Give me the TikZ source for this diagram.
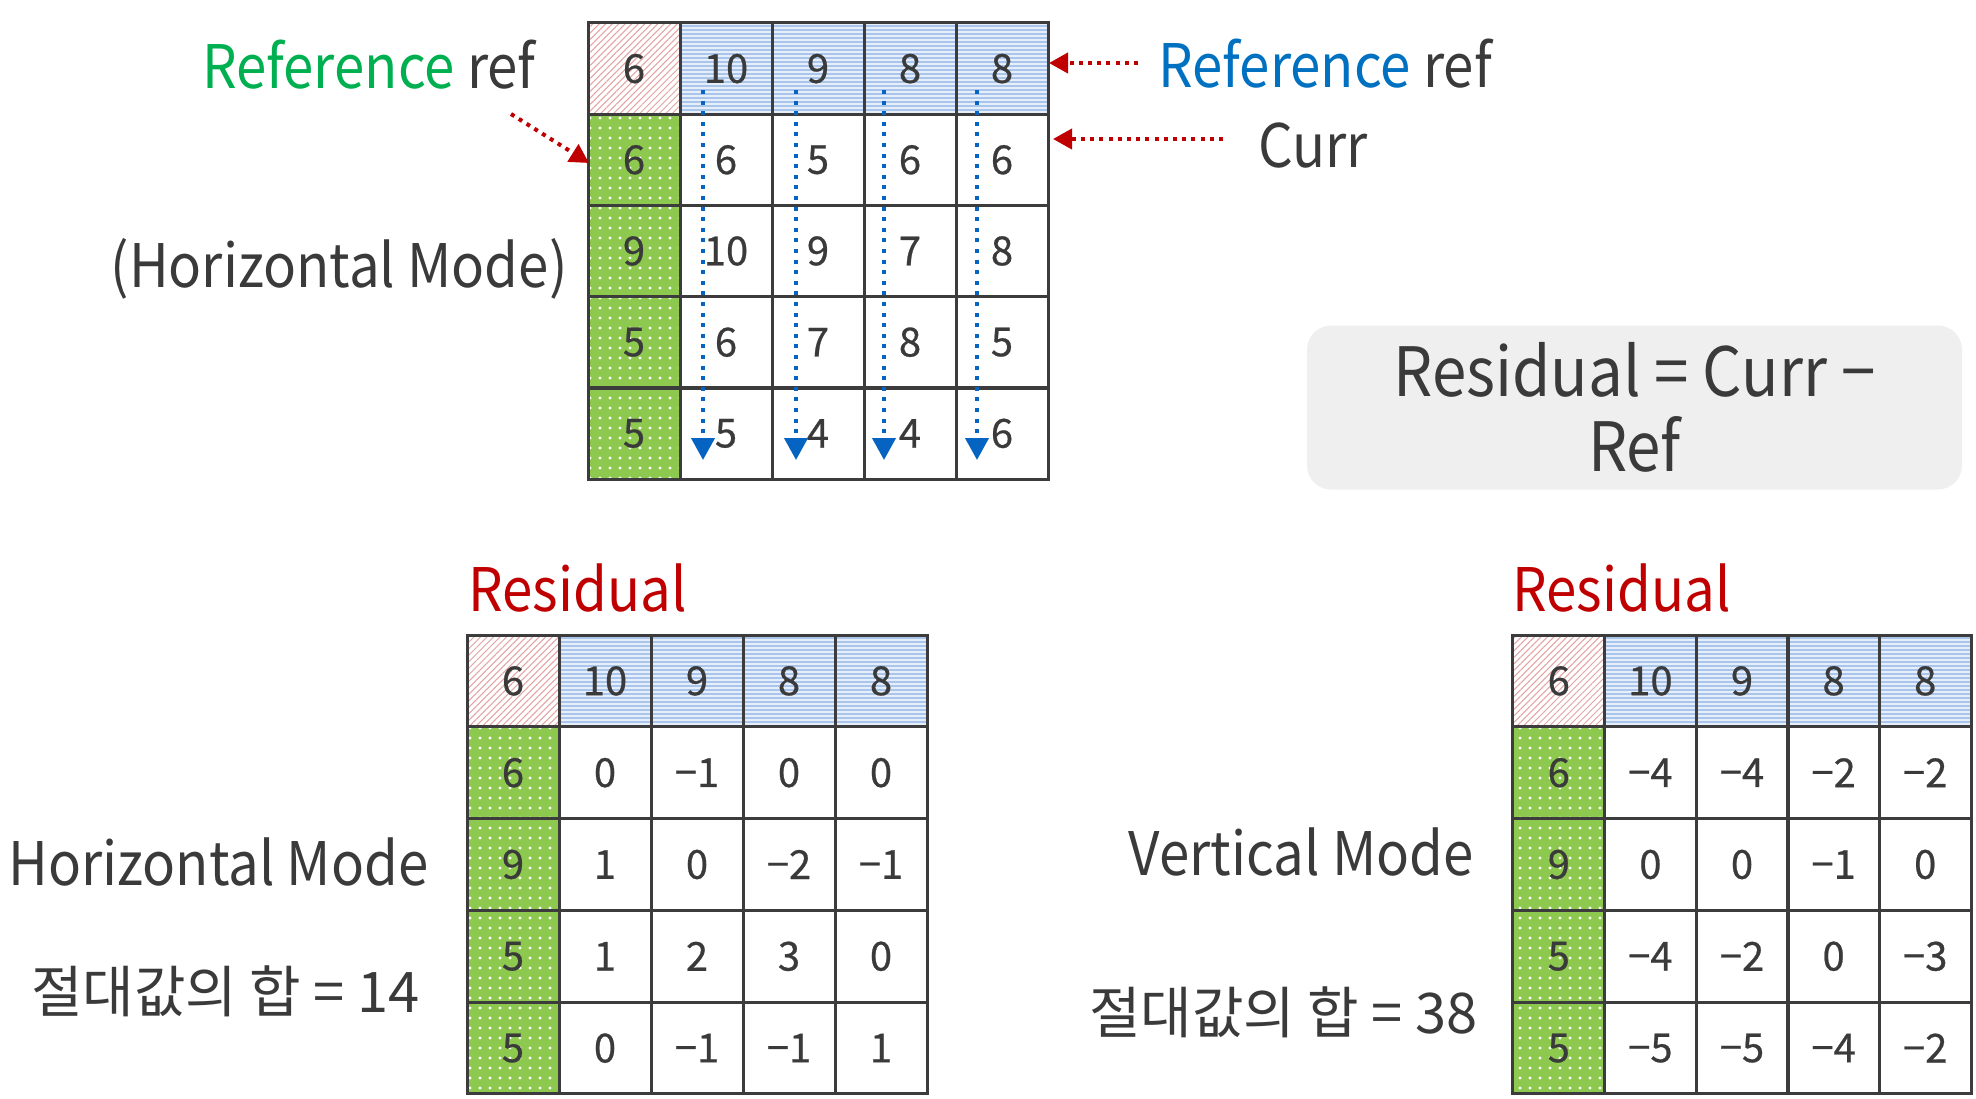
\documentclass[tikz,border=0pt]{standalone}
\usepackage{fontspec}
\setmainfont{Noto Sans CJK KR}
\newfontfamily\lblfont[FakeStretch=0.91]{Noto Sans CJK KR}
\newfontfamily\cellfont[FakeBold=0.6]{Noto Sans CJK KR}
\usetikzlibrary{arrows.meta,patterns.meta}
\definecolor{txt}{HTML}{3A3A3A}
\definecolor{grn}{HTML}{00B050}
\definecolor{blu}{HTML}{0070C0}
\definecolor{rd}{HTML}{C00000}
\definecolor{cellgreen}{HTML}{8DC94F}
\definecolor{hatchred}{HTML}{E5A3A3}
\definecolor{hatchblue}{HTML}{A9C5EC}
\definecolor{lightblue}{HTML}{E6EEF9}
\definecolor{arrblue}{HTML}{0563C1}
\definecolor{boxgray}{HTML}{EFEFEF}
\definecolor{gridc}{HTML}{3C3C3C}
\tikzset{
  cell/.style={draw=gridc, line width=1.5pt, minimum width=46pt, minimum height=45.8pt,
    inner sep=0pt, font=\cellfont\fontsize{20}{20}\selectfont, text=txt},
  lbl/.style={inner sep=0pt, font=\lblfont\fontsize{30}{36}\selectfont, text=txt},
  kor/.style={inner sep=0pt, font=\fontsize{28}{34}\selectfont, text=txt},
  vdot/.style={draw=arrblue, line width=2pt, dash pattern=on 2pt off 3.3pt,
    -{Triangle[width=11.5pt,length=11pt]}},
  rdot/.style={draw=rd, line width=2pt, dash pattern=on 2pt off 2.6pt,
    -{Triangle[width=10pt,length=9.5pt]}},
  formulabox/.style={fill=boxgray, rounded corners=12pt, inner sep=0pt,
    minimum width=327.5pt, minimum height=82pt, align=center, text=txt,
    font=\lblfont\fontsize{34}{37.5}\selectfont}
}
% #1 name, #2 x0, #3 y0, #4 cell w, #5 cell h, #6 rows
\newcommand\mkgrid[6]{%
  \fill[white] (#2,#3) rectangle ({#2+#4},{#3+#5});
  \fill[pattern={Lines[angle=45,distance=2.3pt,line width=0.5pt]}, pattern color=hatchred]
    (#2,#3) rectangle ({#2+#4},{#3+#5});
  \fill[lightblue] ({#2+#4},#3) rectangle ({#2+5*#4},{#3+#5});
  \fill[pattern={Lines[angle=0,distance=2pt,line width=0.7pt]}, pattern color=hatchblue]
    ({#2+#4},#3) rectangle ({#2+5*#4},{#3+#5});
  \fill[cellgreen] (#2,{#3+#5}) rectangle ({#2+#4},{#3+5*#5});
  \fill[pattern={Dots[distance=5pt,radius=0.8pt]}, pattern color=white]
    (#2,{#3+#5}) rectangle ({#2+#4},{#3+5*#5});
  \foreach \row [count=\r from 0] in {#6}{
    \foreach \v [count=\c from 0] in \row {
      \node[cell] (#1-\r-\c) at ({#2+(\c+0.5)*#4},{#3+(\r+0.5)*#5}) {\v};
    }
  }%
}
\begin{document}
\begin{tikzpicture}[x=0.5pt,y=-0.5pt]
\useasboundingbox (0,0) rectangle (1976,1098);

% top grid
\mkgrid{t}{588}{23}{92}{91.2}{{6,10,9,8,8},{6,6,5,6,6},{9,10,9,7,8},{5,6,7,8,5},{5,5,4,4,6}}

% bottom-left grid
\mkgrid{h}{467}{635}{92}{91.8}{{6,10,9,8,8},{6,0,−1,0,0},{9,1,0,−2,−1},{5,1,2,3,0},{5,0,−1,−1,1}}

% bottom-right grid
\mkgrid{v}{1513}{635}{91.6}{91.8}{{6,10,9,8,8},{6,−4,−4,−2,−2},{9,0,0,−1,0},{5,−4,−2,0,−3},{5,−5,−5,−4,−2}}

% vertical dotted arrows
\foreach \x [count=\i] in {703,796,884,977}{
  \coordinate (vs\i) at (\x,90);
  \coordinate (ve\i) at (\x,460);
  \draw[vdot] (vs\i) -- (ve\i);
}

% labels
\node[lbl, anchor=base east] (refL) at (536,88) {\textcolor{grn}{Reference} ref};
\node[lbl, anchor=base west] (refR) at (1158,87) {\textcolor{blu}{Reference} ref};
\node[lbl, anchor=base west] (curr) at (1258,167) {Curr};
\node[lbl, anchor=base east] (hmtop) at (568,287) {(Horizontal Mode)};
\node[lbl, anchor=base west] (hmode) at (8,885) {Horizontal Mode};
\node[kor, anchor=base east] (sumh) at (420,1012) {절대값의 합 = 14};
\node[lbl, anchor=base east] (vmode) at (1474,875) {Vertical Mode};
\node[kor, anchor=base east] (sumv) at (1478,1033) {절대값의 합 = 38};
\node[lbl, text=rd, anchor=base west] (resL) at (468,611) {Residual};
\node[lbl, text=rd, anchor=base west] (resR) at (1512,611) {Residual};

% formula box
\node[formulabox] (formula) at (1634.5,407.5) {Residual = Curr −\\Ref};

% red pointer arrows
\coordinate (gTail) at (511,114);
\coordinate (gTip) at (589,163);
\draw[rdot] (gTail) -- (gTip);
\coordinate (rTail) at (1138,63);
\coordinate (rTip) at (1049,63);
\draw[rdot] (rTail) -- (rTip);
\coordinate (cTail) at (1223,139);
\coordinate (cTip) at (1053,139);
\draw[rdot] (cTail) -- (cTip);
\end{tikzpicture}
\end{document}
